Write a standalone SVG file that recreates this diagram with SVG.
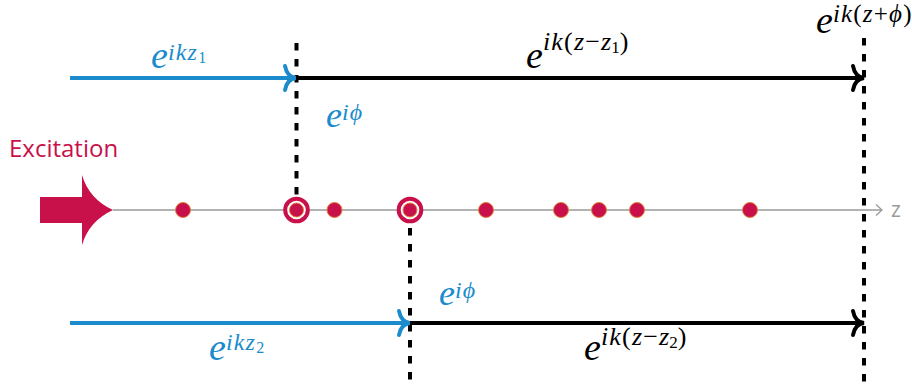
<svg xmlns="http://www.w3.org/2000/svg" width="912" height="385" viewBox="0 0 912 385">
<style>
.m{font-family:"Liberation Serif","DejaVu Serif",serif;font-style:italic}
.up{font-style:normal}
.sp{letter-spacing:1.2px}
.blue{fill:#1b8bcc}
.blk{fill:#000}
.dash{stroke:#000;stroke-width:4;stroke-dasharray:7.5 8.5;fill:none}
.dot{fill:#c8104a;stroke:#e0803a;stroke-width:1}
.ring{fill:#fff;stroke:#c8104a;stroke-width:4}
.bl{stroke:#1b8bcc;stroke-width:4;fill:none}
.kl{stroke:#000;stroke-width:4;fill:none}
</style>
<defs>
<marker id="tipB" markerUnits="userSpaceOnUse" viewBox="-16 -16 20 32" refX="0" refY="0" markerWidth="20" markerHeight="32" orient="auto">
<path d="M-11,-12 Q-9,-1 0,0 Q-9,1 -11,12" fill="none" stroke="#1b8bcc" stroke-width="4" stroke-linecap="round"/>
</marker>
<marker id="tipK" markerUnits="userSpaceOnUse" viewBox="-16 -16 20 32" refX="0" refY="0" markerWidth="20" markerHeight="32" orient="auto">
<path d="M-11,-12 Q-9,-1 0,0 Q-9,1 -11,12" fill="none" stroke="#000" stroke-width="4" stroke-linecap="round"/>
</marker>
</defs>
<g id="axis">
<line x1="113" y1="210" x2="882" y2="210" stroke="#9a9a9a" stroke-width="1.5"/>
<path d="M876,204.5 L882,210 L876,215.5" fill="none" stroke="#9a9a9a" stroke-width="1.3"/>
<text x="891" y="217" font-family="Open Sans, sans-serif" font-size="21" fill="#9a9a9a">z</text>
</g>
<g id="excitation">
<path d="M40,197 L82,197 L82,175 Q89,199 113,210 Q89,221 82,245 L82,223 L40,223 Z" fill="#c8104a"/>
<text x="9" y="157" font-family="Open Sans, sans-serif" font-size="24" fill="#c8104a">Excitation</text>
</g>
<g id="connectors">
<line class="dash" x1="296.5" y1="43" x2="296.5" y2="210"/>
<line class="dash" x1="410" y1="228" x2="410" y2="385"/>
<line class="dash" x1="864" y1="38" x2="864" y2="385"/>
<line class="bl" x1="70" y1="78" x2="296" y2="78" marker-end="url(#tipB)"/>
<line class="kl" x1="296" y1="78" x2="864" y2="78" marker-end="url(#tipK)"/>
<line class="bl" x1="70" y1="323" x2="410" y2="323" marker-end="url(#tipB)"/>
<line class="kl" x1="410" y1="323" x2="864" y2="323" marker-end="url(#tipK)"/>
</g>
<g id="scatterers">
<circle class="dot" cx="183" cy="210" r="7.5"/>
<circle class="ring" cx="296.5" cy="210" r="11.3"/>
<circle class="dot" cx="296.5" cy="210" r="7"/>
<circle class="dot" cx="334.5" cy="210" r="7.5"/>
<circle class="ring" cx="410" cy="210" r="11.3"/>
<circle class="dot" cx="410" cy="210" r="7"/>
<circle class="dot" cx="486" cy="210" r="7.5"/>
<circle class="dot" cx="561" cy="210" r="7.5"/>
<circle class="dot" cx="599" cy="210" r="7.5"/>
<circle class="dot" cx="637" cy="210" r="7.5"/>
<circle class="dot" cx="750" cy="210" r="7.5"/>
</g>
<g id="label-ikz1" class="m blue">
<text x="151" y="68"><tspan font-size="38">e</tspan><tspan class="sp" font-size="24" dy="-8">ikz</tspan><tspan class="up" font-size="16" dy="3">1</tspan></text>
</g>
<g id="label-phi1" class="m blue">
<text x="326" y="127"><tspan font-size="36">e</tspan><tspan class="sp" font-size="24" dy="-7">iϕ</tspan></text>
</g>
<g id="label-ikzz1" class="m blk">
<text x="526" y="68"><tspan font-size="38">e</tspan><tspan class="sp" font-size="26" dy="-18">ik</tspan><tspan class="up sp" font-size="26">(</tspan><tspan class="sp" font-size="26">z</tspan><tspan class="up sp" font-size="26">−</tspan><tspan font-size="26">z</tspan><tspan class="up" font-size="17" dy="3">1</tspan><tspan class="up" font-size="26" dy="-3">)</tspan></text>
</g>
<g id="label-ikzphi" class="m blk">
<text x="816" y="33"><tspan font-size="38">e</tspan><tspan class="sp" font-size="25" dy="-11">ik</tspan><tspan class="up sp" font-size="25">(</tspan><tspan class="sp" font-size="25">z</tspan><tspan class="up sp" font-size="25">+</tspan><tspan class="sp" font-size="25">ϕ</tspan><tspan class="up" font-size="25">)</tspan></text>
</g>
<g id="label-phi2" class="m blue">
<text x="439" y="305"><tspan font-size="36">e</tspan><tspan class="sp" font-size="24" dy="-7">iϕ</tspan></text>
</g>
<g id="label-ikz2" class="m blue">
<text x="209" y="360"><tspan font-size="38">e</tspan><tspan class="sp" font-size="24" dy="-10">ikz</tspan><tspan class="up" font-size="16" dy="3">2</tspan></text>
</g>
<g id="label-ikzz2" class="m blk">
<text x="584" y="360"><tspan font-size="38">e</tspan><tspan class="sp" font-size="26" dy="-15">ik</tspan><tspan class="up sp" font-size="26">(</tspan><tspan class="sp" font-size="26">z</tspan><tspan class="up sp" font-size="26">−</tspan><tspan font-size="26">z</tspan><tspan class="up" font-size="17" dy="3">2</tspan><tspan class="up" font-size="26" dy="-3">)</tspan></text>
</g>
</svg>
